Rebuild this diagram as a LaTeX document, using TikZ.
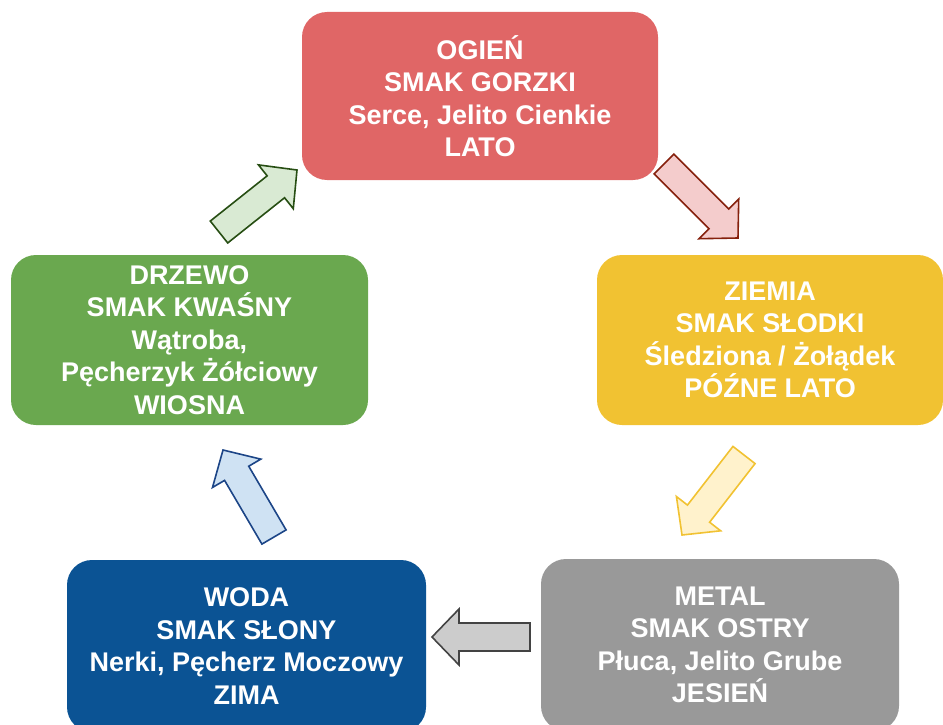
\documentclass[tikz,border=0pt]{standalone}
\usepackage{fontspec}
\setmainfont{Liberation Sans}
\usetikzlibrary{calc}
\definecolor{cRed}{HTML}{E06666}
\definecolor{cYel}{HTML}{F1C232}
\definecolor{cGry}{HTML}{999999}
\definecolor{cBlu}{HTML}{0B5394}
\definecolor{cGrn}{HTML}{6AA84F}
\definecolor{aRedF}{HTML}{F4CCCC}\definecolor{aRedD}{HTML}{85200C}
\definecolor{aYelF}{HTML}{FFF2CC}\definecolor{aYelD}{HTML}{F1C232}
\definecolor{aGryF}{HTML}{CCCCCC}\definecolor{aGryD}{HTML}{434343}
\definecolor{aBluF}{HTML}{CFE2F3}\definecolor{aBluD}{HTML}{1C4587}
\definecolor{aGrnF}{HTML}{D9EAD3}\definecolor{aGrnD}{HTML}{274E13}
\newcommand\blockarr[4]{%
  \draw[blockarrow,fill=#3,draw=#4]
    ($(#1)!14pt!-90:(#2)$) -- ($($(#2)!27pt!(#1)$)!14pt!-90:(#2)$)
    -- ($($(#2)!27pt!(#1)$)!28pt!-90:(#2)$) -- (#2)
    -- ($($(#2)!27pt!(#1)$)!28pt!90:(#2)$)
    -- ($($(#2)!27pt!(#1)$)!14pt!90:(#2)$) -- ($(#1)!14pt!90:(#2)$) -- cycle;}
\begin{document}
\begin{tikzpicture}[x=1pt,y=-1pt,
  elem/.style={rounded corners=25pt,inner sep=0pt,text=white,align=center,
    font=\fontsize{27}{32.5}\selectfont\bfseries},
  blockarrow/.style={line width=1.6pt,line join=miter}]
\useasboundingbox (0,0) rectangle (943,725);
\node[elem,fill=cRed,minimum width=356pt,minimum height=168pt] (ogien) at (480,96)
  {OGIEŃ\\SMAK GORZKI\\Serce, Jelito Cienkie\\LATO};
\node[elem,fill=cYel,minimum width=346pt,minimum height=170pt] (ziemia) at (770,340)
  {ZIEMIA\\SMAK SŁODKI\\Śledziona / Żołądek\\PÓŹNE LATO};
\node[elem,fill=cGry,minimum width=358pt,minimum height=172pt] (metal) at (720,645)
  {METAL\\SMAK OSTRY\\Płuca, Jelito Grube\\JESIEŃ};
\node[elem,fill=cBlu,minimum width=359pt,minimum height=172pt] (woda) at (246.5,646)
  {WODA\\SMAK SŁONY\\Nerki, Pęcherz Moczowy\\ZIMA};
\node[elem,fill=cGrn,minimum width=357pt,minimum height=170pt] (drzewo) at (189.5,340)
  {DRZEWO\\SMAK KWAŚNY\\Wątroba,\\Pęcherzyk Żółciowy\\WIOSNA};
\coordinate (t1) at (664,164); \coordinate (p1) at (738,238);
\coordinate (t2) at (744,455); \coordinate (p2) at (682,535);
\coordinate (t3) at (530,637); \coordinate (p3) at (432,637);
\coordinate (t4) at (274,537); \coordinate (p4) at (223,450);
\coordinate (t5) at (219,232); \coordinate (p5) at (297,170);
\blockarr{t1}{p1}{aRedF}{aRedD}
\blockarr{t2}{p2}{aYelF}{aYelD}
\blockarr{t3}{p3}{aGryF}{aGryD}
\blockarr{t4}{p4}{aBluF}{aBluD}
\blockarr{t5}{p5}{aGrnF}{aGrnD}
\end{tikzpicture}
\end{document}
